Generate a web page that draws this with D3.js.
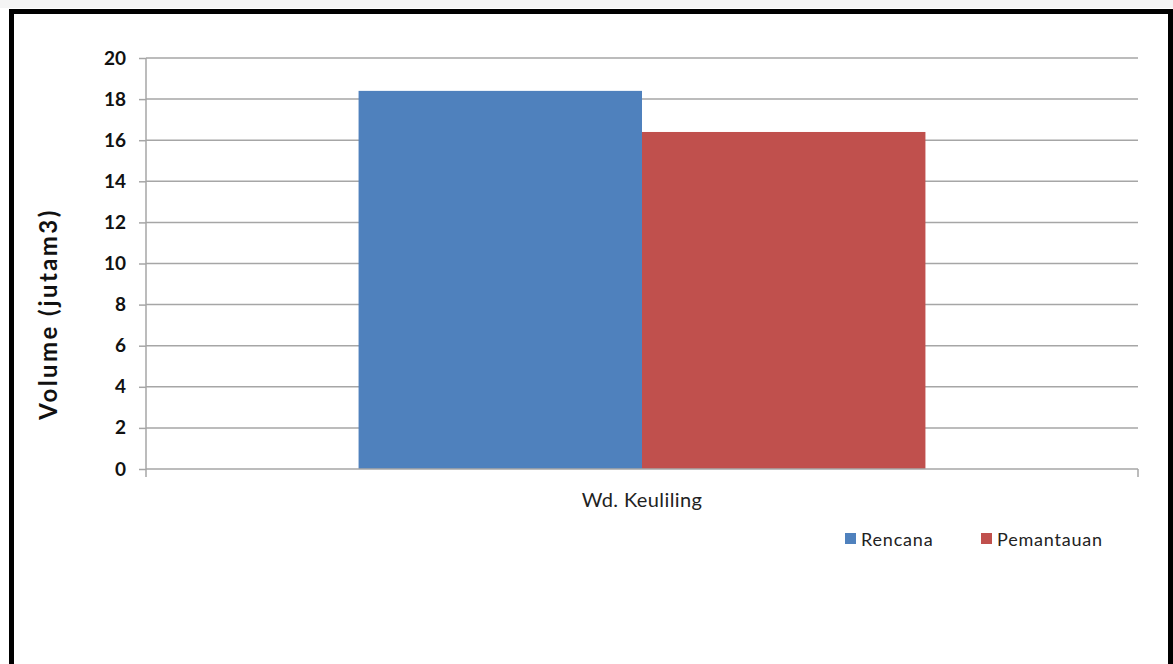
<!DOCTYPE html>
<html>
<head>
<meta charset="utf-8">
<script src="https://cdn.jsdelivr.net/npm/d3@7"></script>
<style>
  html, body { margin: 0; padding: 0; background: #fff; }
  svg { display: block; }
</style>
</head>
<body>
<svg id="chart" width="1173" height="664"></svg>
<script>
const categories = ["Wd. Keuliling"];
const seriesNames = ["Rencana", "Pemantauan"];
const rencana = [18.4];
const pemantauan = [16.4];
const yTicks = [0, 2, 4, 6, 8, 10, 12, 14, 16, 18, 20];
const yTitle = "Volume (jutam3)";
const colors = ["#4F81BD", "#C0504D"];

const svg = d3.select("#chart");
const W = 1173, H = 664;
const plot = { left: 146, right: 1138, top: 58, bottom: 469 };
const gridColor = "#a6a6a6";
const FONT = "Lato, 'Open Sans', sans-serif";

// light top shadow
svg.append("rect").attr("x", 0).attr("y", 0).attr("width", W).attr("height", 8).attr("fill", "#f4f4f4");

// border frame
svg.append("rect")
  .attr("x", 11.5).attr("y", 11.5)
  .attr("width", 1159).attr("height", 720)
  .attr("fill", "#fff").attr("stroke", "#000").attr("stroke-width", 5);

const x = d3.scaleBand().domain(categories).range([plot.left, plot.right]).paddingInner(0).paddingOuter(0.375);
const xs = d3.scaleBand().domain(seriesNames).range([0, x.bandwidth()]);
const y = d3.scaleLinear().domain([0, 20]).range([plot.bottom, plot.top]);

// gridlines
svg.append("g").selectAll("line").data(yTicks.filter(d => d > 0)).join("line")
  .attr("x1", plot.left).attr("x2", plot.right)
  .attr("y1", d => y(d)).attr("y2", d => y(d))
  .attr("stroke", gridColor).attr("stroke-width", 1.5);

// bars
const series = [rencana, pemantauan];
const g = svg.append("g");
categories.forEach((c, ci) => {
  seriesNames.forEach((s, si) => {
    const v = series[si][ci];
    g.append("rect")
      .attr("x", x(c) + xs(s))
      .attr("y", y(v))
      .attr("width", xs.bandwidth())
      .attr("height", y(0) - y(v))
      .attr("fill", colors[si]);
  });
});

// y axis
const yAxis = d3.axisLeft(y).tickValues(yTicks).tickSize(7).tickPadding(13).tickFormat(d3.format("d"));
const ya = svg.append("g").attr("transform", `translate(${plot.left},0)`).call(yAxis);
ya.select(".domain").remove();
ya.selectAll(".tick line").attr("stroke", gridColor).attr("stroke-width", 1.5);
ya.selectAll(".tick text")
  .attr("font-family", FONT)
  .attr("font-weight", "bold").attr("font-size", 19).attr("fill", "#111");
svg.append("line").attr("x1", plot.left).attr("x2", plot.left)
  .attr("y1", plot.top).attr("y2", plot.bottom + 8)
  .attr("stroke", gridColor).attr("stroke-width", 1.5);

// x axis
svg.append("line").attr("x1", plot.left).attr("x2", plot.right)
  .attr("y1", plot.bottom).attr("y2", plot.bottom)
  .attr("stroke", gridColor).attr("stroke-width", 1.5);
svg.append("line").attr("x1", plot.right).attr("x2", plot.right)
  .attr("y1", plot.bottom).attr("y2", plot.bottom + 8)
  .attr("stroke", gridColor).attr("stroke-width", 1.5);
svg.append("g").selectAll("text").data(categories).join("text")
  .attr("x", d => x(d) + x.bandwidth() / 2)
  .attr("y", 507)
  .attr("text-anchor", "middle")
  .attr("font-family", FONT)
  .attr("font-size", 20).attr("letter-spacing", 0.4).attr("fill", "#222")
  .text(d => d);

// y title
svg.append("text")
  .attr("transform", "translate(57,314) rotate(-90)")
  .attr("text-anchor", "middle")
  .attr("font-family", FONT)
  .attr("font-weight", "bold").attr("font-size", 24).attr("letter-spacing", 2.4).attr("fill", "#111")
  .text(yTitle);

// legend
const legX = [845, 981];
const leg = svg.append("g");
seriesNames.forEach((s, i) => {
  leg.append("rect").attr("x", legX[i]).attr("y", 533).attr("width", 11).attr("height", 11).attr("fill", colors[i]);
  leg.append("text").attr("x", legX[i] + 16).attr("y", 546)
    .attr("font-family", FONT)
    .attr("font-size", 18).attr("letter-spacing", 0.8).attr("fill", "#222")
    .text(s);
});
</script>
</body>
</html>
